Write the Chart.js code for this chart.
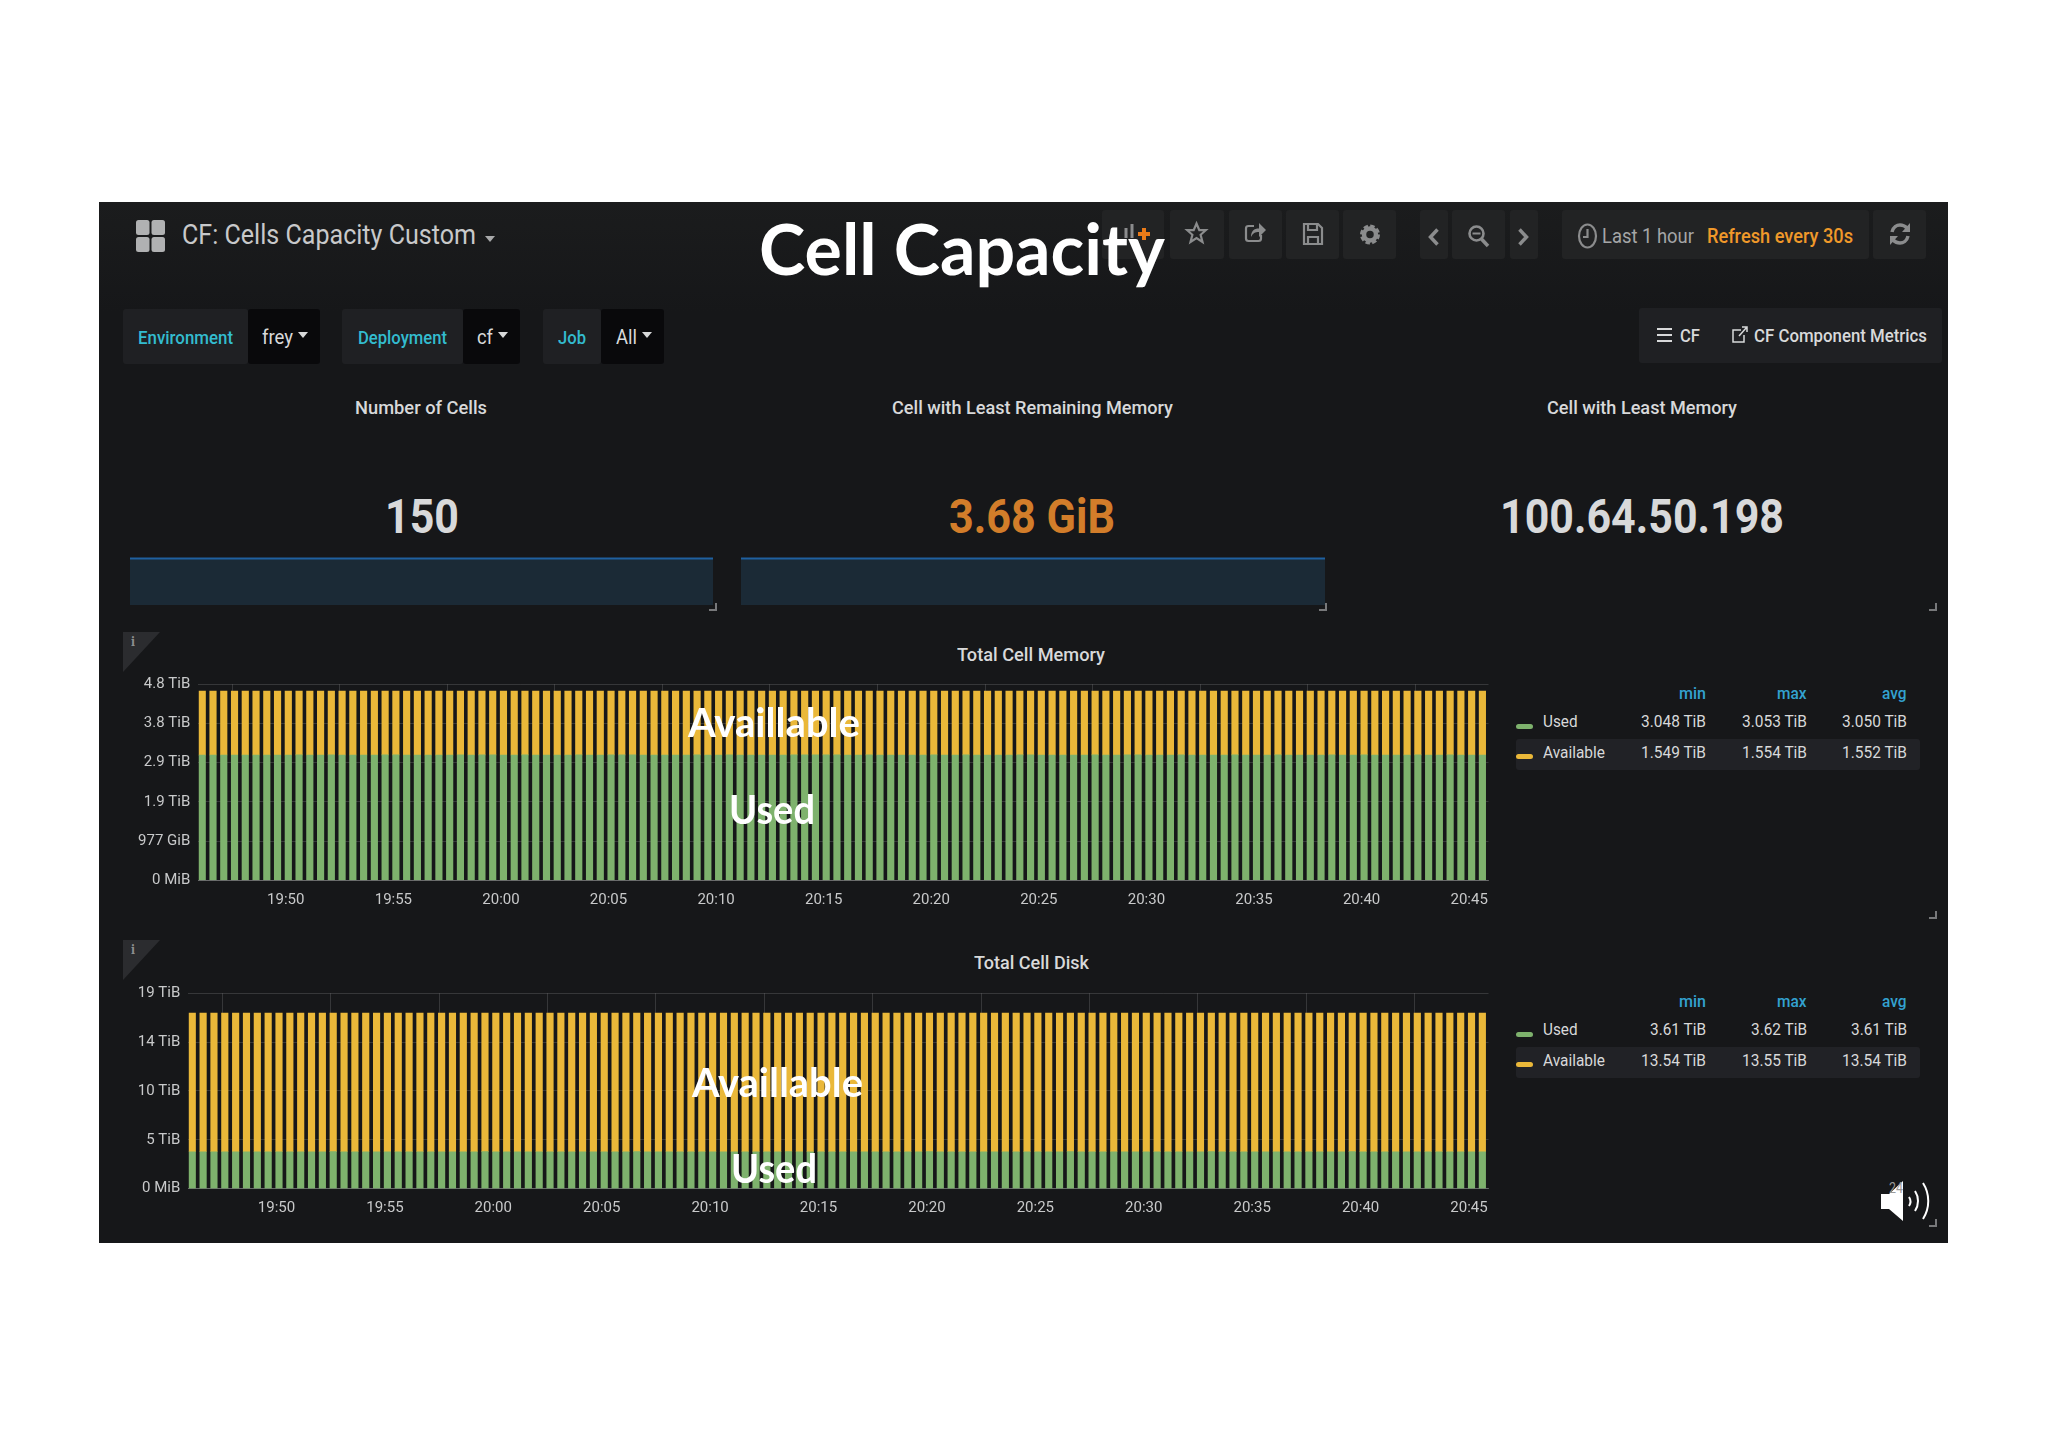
<!DOCTYPE html>
<html>
<head>
<meta charset="utf-8">
<title>Cell Capacity</title>
<script src="https://cdn.jsdelivr.net/npm/chart.js@4/dist/chart.umd.min.js"></script>
<style>
  html, body { margin: 0; padding: 0; background: #fff; }
  #page { position: relative; width: 2048px; height: 1447px; overflow: hidden; background: #fff; }
  #dash { position: absolute; left: 99px; top: 202px; width: 1849px; height: 1041px; background: linear-gradient(#1b1c1d 0, #161719 110px); }
  .box { position: absolute; border-radius: 3px; }
  .txt { position: absolute; white-space: nowrap; line-height: 1; transform-origin: 0 50%; font-family: Roboto, sans-serif; }
  .ico { position: absolute; overflow: visible; }
  canvas { position: absolute; }
</style>
</head>
<body>
<div id="page"><div id="dash"></div></div>
<script>
// Data
const sampleTimes = [
  '19:46:07','19:46:37','19:47:07','19:47:37','19:48:07','19:48:37','19:49:07','19:49:37','19:50:07','19:50:37',
  '19:51:07','19:51:37','19:52:07','19:52:37','19:53:07','19:53:37','19:54:07','19:54:37','19:55:07','19:55:37',
  '19:56:07','19:56:37','19:57:07','19:57:37','19:58:07','19:58:37','19:59:07','19:59:37','20:00:07','20:00:37',
  '20:01:07','20:01:37','20:02:07','20:02:37','20:03:07','20:03:37','20:04:07','20:04:37','20:05:07','20:05:37',
  '20:06:07','20:06:37','20:07:07','20:07:37','20:08:07','20:08:37','20:09:07','20:09:37','20:10:07','20:10:37',
  '20:11:07','20:11:37','20:12:07','20:12:37','20:13:07','20:13:37','20:14:07','20:14:37','20:15:07','20:15:37',
  '20:16:07','20:16:37','20:17:07','20:17:37','20:18:07','20:18:37','20:19:07','20:19:37','20:20:07','20:20:37',
  '20:21:07','20:21:37','20:22:07','20:22:37','20:23:07','20:23:37','20:24:07','20:24:37','20:25:07','20:25:37',
  '20:26:07','20:26:37','20:27:07','20:27:37','20:28:07','20:28:37','20:29:07','20:29:37','20:30:07','20:30:37',
  '20:31:07','20:31:37','20:32:07','20:32:37','20:33:07','20:33:37','20:34:07','20:34:37','20:35:07','20:35:37',
  '20:36:07','20:36:37','20:37:07','20:37:37','20:38:07','20:38:37','20:39:07','20:39:37','20:40:07','20:40:37',
  '20:41:07','20:41:37','20:42:07','20:42:37','20:43:07','20:43:37','20:44:07','20:44:37','20:45:07','20:45:37'
];
const timeTicks = ['19:50','19:55','20:00','20:05','20:10','20:15','20:20','20:25','20:30','20:35','20:40','20:45'];

// TiB
const memoryUsed = [
  3.048,3.049,3.049,3.050,3.049,3.050,3.050,3.049,3.050,3.051,
  3.050,3.050,3.051,3.050,3.049,3.050,3.050,3.051,3.051,3.050,
  3.050,3.049,3.050,3.050,3.051,3.050,3.052,3.051,3.050,3.050,
  3.051,3.050,3.050,3.049,3.050,3.051,3.050,3.050,3.051,3.052,
  3.051,3.050,3.050,3.050,3.049,3.050,3.051,3.050,3.050,3.051,
  3.050,3.050,3.049,3.050,3.050,3.051,3.052,3.053,3.052,3.051,
  3.050,3.050,3.051,3.050,3.050,3.049,3.050,3.050,3.051,3.050,
  3.050,3.051,3.050,3.049,3.050,3.050,3.051,3.051,3.050,3.050,
  3.049,3.050,3.050,3.051,3.050,3.050,3.052,3.051,3.050,3.050,
  3.050,3.051,3.050,3.050,3.049,3.050,3.051,3.050,3.050,3.050,
  3.051,3.050,3.049,3.050,3.050,3.051,3.050,3.050,3.051,3.050,
  3.050,3.049,3.050,3.051,3.050,3.050,3.051,3.050,3.050,3.050
];
const memoryAvailable = [
  1.554,1.553,1.553,1.552,1.553,1.552,1.552,1.553,1.552,1.551,
  1.552,1.552,1.551,1.552,1.553,1.552,1.552,1.551,1.551,1.552,
  1.552,1.553,1.552,1.552,1.551,1.552,1.550,1.551,1.552,1.552,
  1.551,1.552,1.552,1.553,1.552,1.551,1.552,1.552,1.551,1.550,
  1.551,1.552,1.552,1.552,1.553,1.552,1.551,1.552,1.552,1.551,
  1.552,1.552,1.553,1.552,1.552,1.551,1.550,1.549,1.550,1.551,
  1.552,1.552,1.551,1.552,1.552,1.553,1.552,1.552,1.551,1.552,
  1.552,1.551,1.552,1.553,1.552,1.552,1.551,1.551,1.552,1.552,
  1.553,1.552,1.552,1.551,1.552,1.552,1.550,1.551,1.552,1.552,
  1.552,1.551,1.552,1.552,1.553,1.552,1.551,1.552,1.552,1.552,
  1.551,1.552,1.553,1.552,1.552,1.551,1.552,1.552,1.551,1.552,
  1.552,1.553,1.552,1.551,1.552,1.552,1.551,1.552,1.552,1.552
];
const diskUsed = [
  3.61,3.61,3.61,3.61,3.61,3.61,3.61,3.61,3.61,3.61,
  3.61,3.61,3.61,3.62,3.61,3.61,3.61,3.61,3.61,3.61,
  3.61,3.61,3.61,3.61,3.61,3.61,3.61,3.62,3.61,3.61,
  3.61,3.61,3.61,3.61,3.61,3.61,3.61,3.61,3.61,3.61,
  3.61,3.62,3.61,3.61,3.61,3.61,3.61,3.61,3.61,3.61,
  3.61,3.61,3.61,3.61,3.61,3.62,3.61,3.61,3.61,3.61,
  3.61,3.61,3.61,3.61,3.61,3.61,3.61,3.61,3.62,3.61,
  3.61,3.61,3.61,3.61,3.61,3.61,3.61,3.61,3.61,3.61,
  3.61,3.62,3.61,3.61,3.61,3.61,3.61,3.61,3.61,3.61,
  3.61,3.61,3.61,3.61,3.62,3.61,3.61,3.61,3.61,3.61,
  3.61,3.61,3.61,3.61,3.61,3.61,3.61,3.62,3.61,3.61,
  3.61,3.61,3.61,3.61,3.61,3.61,3.61,3.61,3.61,3.61
];
const diskAvailable = [
  13.54,13.54,13.55,13.54,13.54,13.54,13.54,13.54,13.54,13.54,
  13.54,13.54,13.54,13.54,13.54,13.55,13.54,13.54,13.54,13.54,
  13.54,13.54,13.54,13.54,13.54,13.54,13.54,13.54,13.54,13.55,
  13.54,13.54,13.54,13.54,13.54,13.54,13.54,13.54,13.54,13.54,
  13.54,13.54,13.54,13.55,13.54,13.54,13.54,13.54,13.54,13.54,
  13.54,13.54,13.54,13.54,13.54,13.54,13.54,13.55,13.54,13.54,
  13.54,13.54,13.54,13.54,13.54,13.54,13.54,13.54,13.54,13.54,
  13.55,13.54,13.54,13.54,13.54,13.54,13.54,13.54,13.54,13.54,
  13.54,13.54,13.54,13.55,13.54,13.54,13.54,13.54,13.54,13.54,
  13.54,13.54,13.54,13.54,13.54,13.54,13.55,13.54,13.54,13.54,
  13.54,13.54,13.54,13.54,13.54,13.54,13.54,13.54,13.54,13.55,
  13.54,13.54,13.54,13.54,13.54,13.54,13.54,13.54,13.54,13.54
];

const memoryTickValues = [0, 0.954, 1.908, 2.862, 3.816, 4.77];
const memoryTickLabels = ['0 MiB', '977 GiB', '1.9 TiB', '2.9 TiB', '3.8 TiB', '4.8 TiB'];
const diskTickValues = [0, 4.77, 9.54, 14.31, 19.08];
const diskTickLabels = ['0 MiB', '5 TiB', '10 TiB', '14 TiB', '19 TiB'];

const cellCountTrend = [150, 150, 150, 150, 150, 150, 150, 150];
const leastMemoryTrend = [3.68, 3.68, 3.68, 3.68, 3.68, 3.68, 3.68, 3.68];

const page = document.getElementById('page');
const GREEN = '#7eb26d';
const YELLOW = '#eab839';
const TEAL = '#33bccf';
const BLUE = '#33a2d0';
const LIGHT = '#d8d9da';

// hh:mm[:ss] to minutes since midnight
function toMinutes(t) {
  const p = t.split(':').map(Number);
  return p[0] * 60 + p[1] + (p[2] || 0) / 60;
}

function box(x0, y0, x1, y1, color) {
  const d = document.createElement('div');
  d.className = 'box';
  d.style.cssText = `left:${x0}px;top:${y0}px;width:${x1 - x0}px;height:${y1 - y0}px;background:${color}`;
  page.appendChild(d);
}

// the screenshot is squeezed sideways, so each text is fitted between x0 and x1
function text(str, x0, x1, yc, size, color, weight, family) {
  const s = document.createElement('span');
  s.className = 'txt';
  s.textContent = str;
  s.style.cssText = `left:${x0}px;top:${yc - size / 2}px;font-size:${size}px;color:${color};font-weight:${weight || 400}` +
    (family ? `;font-family:${family}` : '');
  page.appendChild(s);
  s.style.transform = `scaleX(${(x1 - x0) / s.getBoundingClientRect().width})`;
}

function icon(x, y, w, h, vb, body) {
  page.insertAdjacentHTML('beforeend',
    `<svg class="ico" style="left:${x}px;top:${y}px" width="${w}" height="${h}" viewBox="${vb}" preserveAspectRatio="none">${body}</svg>`);
}

// toolbar buttons
[[1102, 1164], [1170, 1224], [1229, 1282], [1286, 1339], [1343, 1396], [1420, 1448], [1452, 1505], [1510, 1538], [1562, 1869], [1873, 1926]]
  .forEach(b => box(b[0], 210, b[1], 259, '#222324'));

// variable boxes
box(123, 309, 248, 364, '#1f2023'); box(248, 309, 320, 364, '#09090b');
box(342, 309, 463, 364, '#1f2023'); box(463, 309, 520, 364, '#09090b');
box(543, 309, 601, 364, '#1f2023'); box(601, 309, 664, 364, '#09090b');
box(1639, 308, 1942, 363, '#1f2023');

// grid logo
icon(136, 220, 29, 32, '0 0 29 32',
  '<rect x="0" y="0" width="13.5" height="15" rx="2.5" fill="#b0b1b2"/><rect x="15.5" y="0" width="13.5" height="15" rx="2.5" fill="#b0b1b2"/>' +
  '<rect x="0" y="17" width="13.5" height="15" rx="2.5" fill="#b0b1b2"/><rect x="15.5" y="17" width="13.5" height="15" rx="2.5" fill="#b0b1b2"/>');

text('CF: Cells Capacity Custom', 182, 476, 235, 27, '#c8c9ca');
const caret = (x, y, c) => icon(x - 5, y - 3, 10, 6, '0 0 10 6', `<path d="M0 0H10L5 6Z" fill="${c}"/>`);
caret(490, 239, '#a8a9aa');

text('Environment', 138, 233, 337, 19, TEAL, 500);
text('frey', 262, 293, 337, 20, LIGHT);
caret(303, 335, LIGHT);
text('Deployment', 358, 447, 337, 19, TEAL, 500);
text('cf', 477, 493, 337, 20, LIGHT);
caret(503, 335, LIGHT);
text('Job', 558, 586, 337, 19, TEAL, 500);
text('All', 616, 637, 337, 20, LIGHT);
caret(647, 335, LIGHT);

// toolbar icons
const GREY = '#8b8c8d';
const S = `fill="none" stroke="${GREY}" stroke-width="2.2"`;
icon(1124, 222, 30, 24, '0 0 30 24', `<path d="M2 6v10M8 2v14" stroke="${GREY}" stroke-width="3"/><path d="M14 12h12M20 6v12" stroke="#eb7b18" stroke-width="4"/>`);
icon(1186, 222, 21, 22, '0 0 21 22', `<path d="M10.5 1.5l2.8 6.7h6.5l-5.2 4.6 1.9 7.2-6-4-6 4 1.9-7.2L1.2 8.2h6.5z" ${S}/>`);
icon(1245, 222, 21, 20, '0 0 21 20', `<path d="M9 4H3.5Q1 4 1 6.5v10Q1 19 3.5 19h10q2.500 0 2.500-2.500V13" ${S}/><path d="M6 15c0-6 3-8.500 8-8.500V1l7 7-7 7V10c-4 0-6 1-8 5z" fill="${GREY}"/>`);
icon(1303, 223, 20, 22, '0 0 20 22', `<path d="M1 1h14l4 4v16H1z" ${S}/><path d="M5 1v6h9V1M5 21v-7h10v7" ${S}/>`);
icon(1360, 224, 20, 21, '0 0 20 21', `<circle cx="10" cy="10.500" r="6" fill="none" stroke="${GREY}" stroke-width="4.500"/><circle cx="10" cy="10.500" r="8.500" fill="none" stroke="${GREY}" stroke-width="3" stroke-dasharray="4.400 2.270"/>`);
icon(1428, 228, 11, 18, '0 0 11 18', `<path d="M9.500 1.500L2.500 9l7 7.500" fill="none" stroke="${GREY}" stroke-width="3.500"/>`);
icon(1468, 225, 21, 22, '0 0 21 22', `<circle cx="8.500" cy="8.500" r="7" fill="none" stroke="${GREY}" stroke-width="2.600"/><path d="M13.500 14l6.500 7" stroke="${GREY}" stroke-width="3.500"/><path d="M4.500 8.500h8" stroke="${GREY}" stroke-width="2"/>`);
icon(1518, 228, 11, 18, '0 0 11 18', `<path d="M1.500 1.500L8.500 9l-7 7.500" fill="none" stroke="${GREY}" stroke-width="3.500"/>`);
icon(1578, 223, 19, 26, '0 0 19 26', `<ellipse cx="9.500" cy="13" rx="8.500" ry="11.500" ${S}/><path d="M9.500 6v8H5" ${S}/>`);
text('Last 1 hour', 1602, 1694, 236, 20, '#a5a6a7');
text('Refresh every 30s', 1707, 1853, 236, 20, '#f0992a', 500);
icon(1890, 223, 20, 22, '0 0 20 22', `<path d="M2 9C3 4 7 2 10 2c3 0 5 1 7 3M18 13c-1 5-5 7-8 7-3 0-5-1-7-3" fill="none" stroke="${GREY}" stroke-width="3.500"/><path d="M20 0v9h-8zM0 22v-9h8z" fill="${GREY}"/>`);

// links row
icon(1657, 327, 15, 16, '0 0 15 16', '<path d="M0 2h15M0 8h15M0 14h15" stroke="#d8d9da" stroke-width="2"/>');
text('CF', 1680, 1700, 335, 19, LIGHT, 500);
icon(1732, 326, 16, 17, '0 0 16 17', `<path d="M9 4H1v12h11V9M7 10L15 1M10 1h5v5" fill="none" stroke="#d8d9da" stroke-width="1.500"/>`);
text('CF Component Metrics', 1754, 1927, 335, 19, LIGHT, 500);

// stat panels
text('Number of Cells', 355, 487, 407, 19, LIGHT, 500);
text('Cell with Least Remaining Memory', 892, 1173, 407, 19, LIGHT, 500);
text('Cell with Least Memory', 1547, 1737, 407, 19, LIGHT, 500);
text('150', 385, 459, 516, 49, LIGHT, 700);
text('3.68 GiB', 949, 1115, 516, 49, '#d27d2a', 700);
text('100.64.50.198', 1500, 1784, 516, 49, LIGHT, 700);

// graph panel titles
text('Total Cell Memory', 957, 1105, 654.5, 18, LIGHT, 500);
text('Total Cell Disk', 974, 1089, 963, 18, LIGHT, 500);

// info corners
[632, 940].forEach(y => {
  icon(123, y, 37, 40, '0 0 37 40', '<path d="M0 0H37L0 40Z" fill="#2b2c2f"/>');
  text('i', 131, 135, y + 9, 13, '#8e8f91', 700, '"DejaVu Serif", serif');
});

// resize handles
[[713, 607], [1323, 607], [1933, 607], [1933, 915], [1933, 1223]].forEach(p =>
  icon(p[0] - 4, p[1] - 4, 8, 8, '0 0 8 8', '<path d="M7 0v7H0" fill="none" stroke="#77787a" stroke-width="2"/>'));

// legend tables
function legendTable(yHead, yUsed, yAvail, used, avail) {
  box(1516, yAvail - 14, 1920, yAvail + 17, '#212226');
  text('min', 1679, 1706, yHead, 16, BLUE, 500);
  text('max', 1777, 1806.5, yHead, 16, BLUE, 500);
  text('avg', 1882, 1906.5, yHead, 16, BLUE, 500);
  box(1516, yUsed + 2, 1533, yUsed + 7, GREEN);
  box(1516, yAvail + 1, 1533, yAvail + 6, YELLOW);
  text('Used', 1542.5, 1577, yUsed, 16, LIGHT);
  text('Available', 1542.5, 1604.4, yAvail, 16, LIGHT);
  const rights = [1706, 1806.5, 1906.5];
  used.forEach((v, i) => text(v[0], rights[i] - v[1], rights[i], yUsed, 16, LIGHT));
  avail.forEach((v, i) => text(v[0], rights[i] - v[1], rights[i], yAvail, 16, LIGHT));
}
legendTable(694, 722, 753,
  [['3.048 TiB', 65], ['3.053 TiB', 65], ['3.050 TiB', 65]],
  [['1.549 TiB', 65], ['1.554 TiB', 65], ['1.552 TiB', 65]]);
legendTable(1002, 1030, 1061,
  [['3.61 TiB', 56], ['3.62 TiB', 56], ['3.61 TiB', 56]],
  [['13.54 TiB', 65], ['13.55 TiB', 65], ['13.54 TiB', 65]]);

function makeCanvas(x, y, w, h) {
  const c = document.createElement('canvas');
  c.width = w; c.height = h;
  c.style.cssText = `left:${x}px;top:${y}px;width:${w}px;height:${h}px`;
  page.appendChild(c);
  return c;
}

// stacked time series panel, area = plot rectangle in canvas px
// area.top has to stay above 17: the y labels claim that much at the top of the canvas
function barPanel(pos, area, used, available, yValues, yLabels) {
  const canvas = makeCanvas(pos.x, pos.y, pos.w, pos.h);
  const xs = sampleTimes.map(toMinutes);
  const points = arr => arr.map((v, i) => ({ x: xs[i], y: v }));
  return new Chart(canvas.getContext('2d'), {
    type: 'bar',
    data: {
      datasets: [
        { label: 'Used', data: points(used), backgroundColor: GREEN, barThickness: 6.5, stack: 's' },
        { label: 'Available', data: points(available), backgroundColor: YELLOW, barThickness: 6.5, stack: 's' }
      ]
    },
    options: {
      responsive: false,
      animation: false,
      layout: { padding: { top: area.top, left: 0, right: pos.w - area.right, bottom: 0 } },
      plugins: { legend: { display: false }, tooltip: { enabled: false } },
      scales: {
        x: {
          type: 'linear',
          stacked: true,
          offset: false,
          min: toMinutes('19:45:56'),
          max: toMinutes('20:45:54'),
          afterBuildTicks: axis => { axis.ticks = timeTicks.map(t => ({ value: toMinutes(t) })); },
          afterFit: axis => { axis.height = pos.h - area.bottom; },
          grid: { color: 'rgba(255,255,255,0.14)', drawTicks: false, lineWidth: 1 },
          border: { color: 'rgba(255,255,255,0.25)' },
          ticks: {
            autoSkip: false, maxRotation: 0, padding: 11, color: '#c8c9ca',
            font: { family: 'Roboto', size: 15 },
            callback: (v, i) => timeTicks[i]
          }
        },
        y: {
          stacked: true,
          min: 0,
          max: yValues[yValues.length - 1],
          afterBuildTicks: axis => { axis.ticks = yValues.map(v => ({ value: v })); },
          afterFit: axis => { axis.width = area.left; },
          grid: { color: 'rgba(255,255,255,0.14)', drawTicks: false },
          border: { display: false },
          ticks: {
            padding: 8, color: '#c8c9ca',
            font: { family: 'Roboto', size: 15 },
            callback: (v, i) => yLabels[i]
          }
        }
      }
    }
  });
}

barPanel({ x: 110, y: 661, w: 1390, h: 250 }, { left: 88.3, right: 1378.5, top: 23.3, bottom: 219.3 },
  memoryUsed, memoryAvailable, memoryTickValues, memoryTickLabels);
barPanel({ x: 110, y: 971, w: 1390, h: 250 }, { left: 78.3, right: 1378.5, top: 22.3, bottom: 217.7 },
  diskUsed, diskAvailable, diskTickValues, diskTickLabels);

// sparkline behind a stat
function sparkline(x0, x1, values) {
  const canvas = makeCanvas(x0, 557, x1 - x0, 48);
  return new Chart(canvas.getContext('2d'), {
    type: 'line',
    data: {
      labels: values.map((v, i) => i),
      datasets: [{
        data: values, borderColor: '#1f60a0', borderWidth: 2, pointRadius: 0,
        fill: true, backgroundColor: '#1b2a36'
      }]
    },
    options: {
      responsive: false,
      animation: false,
      layout: { padding: 0 },
      plugins: { legend: { display: false }, tooltip: { enabled: false } },
      scales: {
        x: { display: false, offset: false },
        y: { display: false, min: 0, max: values[0] * 1.03 }
      }
    }
  });
}
sparkline(129.5, 713, cellCountTrend);
sparkline(741, 1324.6, leastMemoryTrend);

// overlaid captions
const LATO = 'Lato, sans-serif';
text('Cell Capacity', 759, 1165, 248, 70, '#fff', 700, LATO);
text('Availlable', 688, 860, 722, 40, '#fff', 700, LATO);
text('Used', 729, 815, 809, 40, '#fff', 700, LATO);
text('Availlable', 692, 863, 1081.5, 40, '#fff', 700, LATO);
text('Used', 731, 817, 1168, 40, '#fff', 700, LATO);

// speaker
icon(1881, 1181, 51, 40, '0 0 51 40',
  '<path d="M0 13h8L22 0v40L8 28H0z" fill="#fff"/><path d="M28 16c2 3 2 6 0 9M34 10c4 6 4 14 0 20M42 2c7 11 7 25 0 36" fill="none" stroke="#fff" stroke-width="2"/>');
text('24', 1889, 1903, 1188, 14, '#9a9a9a');
</script>
</body>
</html>
